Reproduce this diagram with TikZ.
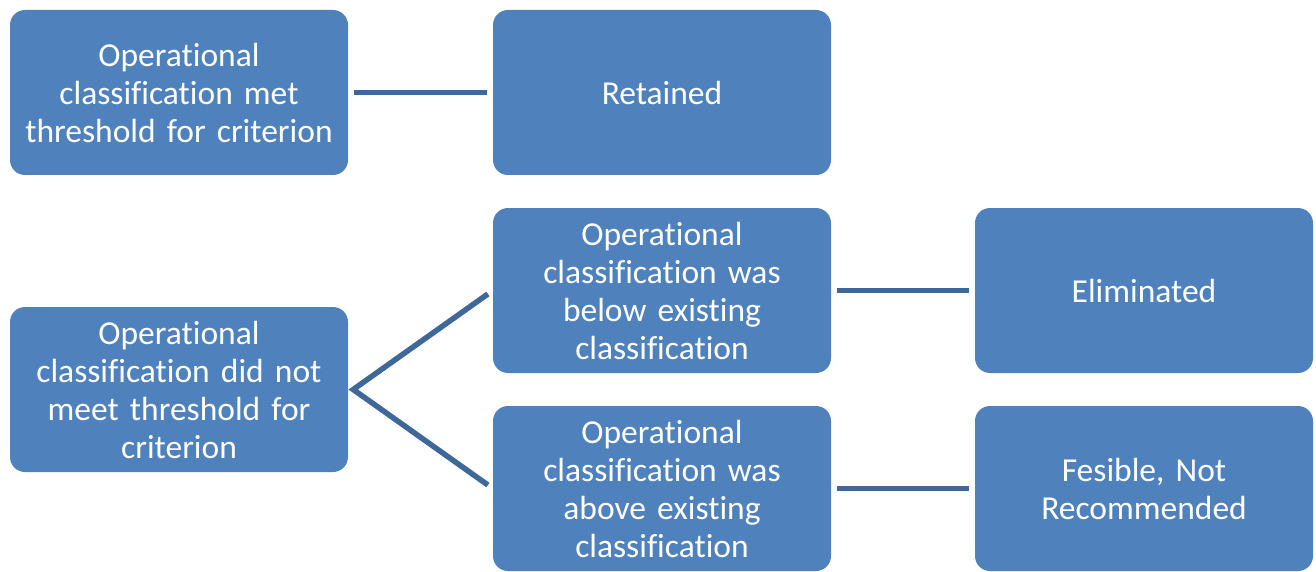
\documentclass[tikz,border=0pt]{standalone}
\usepackage{fontspec}
\setmainfont[Ligatures=NoCommon]{Carlito}
\definecolor{boxfill}{RGB}{79,129,189}
\definecolor{linkcol}{RGB}{62,104,154}
\begin{document}
\begin{tikzpicture}[x=1pt,y=-1pt,
  card/.style={draw=none,fill=boxfill,rounded corners=15pt,minimum width=338pt,minimum height=165pt,
    text=white,align=center,font=\fontsize{33.5}{38}\selectfont,inner sep=0pt,text width=334pt},
  link/.style={draw=linkcol,line width=5.5pt,shorten <=6pt,shorten >=6pt}]
\useasboundingbox (0,0) rectangle (1316,572);
\node[card] (a) at (179,92.5) {Operational\\classification met\\threshold for criterion};
\node[card] (b) at (662,92.5) {Retained};
\node[card] (c) at (179,389.5) {Operational\\classification did not\\meet threshold for\\criterion};
\node[card] (d) at (662,290.5) {Operational\\classification was\\below existing\\classification};
\node[card] (e) at (1144,290.5) {Eliminated};
\node[card] (f) at (662,488.5) {Operational\\classification was\\above existing\\classification};
\node[card] (g) at (1144,488.5) {Fesible, Not\\Recommended};
\coordinate (cx) at ([xshift=5pt]c.east);
\draw[link] (a.east) -- (b.west);
\draw[link,miter limit=10] (d.west) -- (cx) -- (f.west);
\draw[link] (d.east) -- (e.west);
\draw[link] (f.east) -- (g.west);
\end{tikzpicture}
\end{document}
